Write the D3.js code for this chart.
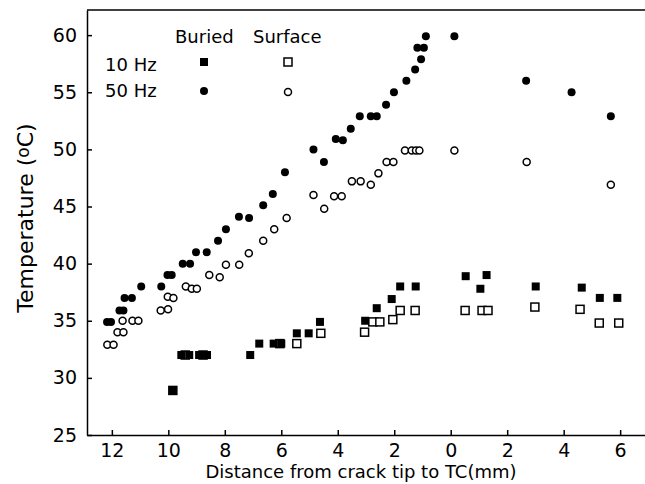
<!DOCTYPE html>
<html>
<head>
<meta charset="utf-8">
<script src="https://cdn.jsdelivr.net/npm/d3@7"></script>
<style>
  body { margin: 0; background: #fff; }
  svg text { font-family: "DejaVu Sans", sans-serif; fill: #000; }
  .axis path, .axis line { stroke: #000; stroke-width: 1.5px; }
</style>
</head>
<body>
<div id="chart"></div>
<script>
// distance from crack tip (mm): negative = left of the "0" tick, positive = right
var xTicks = [-12, -10, -8, -6, -4, -2, 0, 2, 4, 6];
var yTicks = [25, 30, 35, 40, 45, 50, 55, 60];

// buried, 50 Hz (filled circles)
var buried50Dist = [-12.17, -12.03, -11.73, -11.59, -11.55, -11.29, -10.96, -10.25, -10.03, -9.88,
  -9.49, -9.23, -9.02, -8.64, -8.24, -7.96, -7.50, -7.14, -6.64, -6.30, -5.87, -4.86, -4.49,
  -4.07, -3.82, -3.54, -3.22, -2.83, -2.62, -2.29, -2.01, -1.57, -1.26, -1.05, -1.18, -0.95,
  -0.88, 0.13, 2.67, 4.28, 5.67];
var buried50Temp = [34.9, 34.9, 35.9, 35.9, 37.0, 37.0, 38.0, 38.0, 39.0, 39.0,
  40.0, 40.0, 41.0, 41.0, 42.0, 43.0, 44.1, 44.0, 45.1, 46.1, 48.0, 50.0, 48.9,
  50.9, 50.8, 51.8, 52.9, 52.9, 52.9, 53.9, 55.0, 56.0, 57.0, 57.9, 58.9, 58.9,
  59.9, 59.9, 56.0, 55.0, 52.9];

// surface, 50 Hz (open circles)
var surface50Dist = [-12.16, -11.94, -11.80, -11.59, -11.62, -11.27, -11.06, -10.27, -10.01, -10.02,
  -9.82, -9.38, -9.17, -8.99, -8.55, -8.18, -7.96, -7.49, -7.15, -6.64, -6.25, -5.81, -4.86,
  -4.48, -4.13, -3.86, -3.50, -3.19, -2.83, -2.56, -2.27, -2.03, -1.62, -1.38, -1.23, -1.11,
  0.13, 2.69, 5.67];
var surface50Temp = [32.9, 32.9, 34.0, 34.0, 35.0, 35.0, 35.0, 35.9, 36.0, 37.1,
  37.0, 38.0, 37.8, 37.8, 39.0, 38.8, 39.9, 39.9, 40.9, 42.0, 43.0, 44.0, 46.0,
  44.8, 45.9, 45.9, 47.2, 47.2, 46.9, 47.9, 48.9, 48.9, 49.9, 49.9, 49.9, 49.9,
  49.9, 48.9, 46.9];

// buried, 10 Hz (filled squares)
var buried10Dist = [-9.84, -9.54, -9.26, -8.91, -8.63, -7.10, -6.78, -6.27, -6.00, -5.45, -5.03,
  -4.63, -3.03, -2.62, -2.09, -1.79, -1.24, 0.53, 1.05, 1.27, 3.01, 4.64, 5.28, 5.90];
var buried10Temp = [28.9, 32.0, 32.0, 32.0, 32.0, 32.0, 33.0, 33.0, 33.0, 33.9, 33.9,
  34.9, 35.0, 36.1, 36.9, 38.0, 38.0, 38.9, 37.8, 39.0, 38.0, 37.9, 37.0, 37.0];

// surface, 10 Hz (open squares)
var surface10Dist = [-9.84, -9.40, -8.77, -6.05, -5.45, -4.60, -3.05, -2.76, -2.51, -2.05, -1.79,
  -1.26, 0.51, 1.11, 1.32, 2.98, 4.58, 5.26, 5.95];
var surface10Temp = [28.9, 32.0, 32.0, 33.0, 33.0, 33.9, 34.0, 34.9, 34.9, 35.1, 35.9,
  35.9, 35.9, 35.9, 35.9, 36.2, 36.0, 34.8, 34.8];

var width = 645, height = 484;
var margin = {top: 10, right: 0, bottom: 49, left: 87};

var svg = d3.select("#chart").append("svg")
  .attr("width", width)
  .attr("height", height);

var x = d3.scaleLinear()
  .domain([-12.88, 6.88])
  .range([margin.left, width - margin.right]);

var y = d3.scaleLinear()
  .domain([25, 62.2])
  .range([height - margin.bottom, margin.top]);

function pairs(xs, ys) {
  return xs.map(function(d, i) { return {d: d, t: ys[i]}; });
}

// axes, ticks point inward
var xAxis = svg.append("g")
  .attr("class", "axis")
  .attr("transform", "translate(0," + y(25) + ")")
  .call(d3.axisBottom(x).tickValues(xTicks).tickSizeInner(-5).tickSizeOuter(0).tickPadding(9)
    .tickFormat(function(d) { return Math.abs(d); }));
xAxis.selectAll("text").style("font-size", "19px");

var yAxis = svg.append("g")
  .attr("class", "axis")
  .attr("transform", "translate(" + x.range()[0] + ",0)")
  .call(d3.axisLeft(y).tickValues(yTicks).tickSizeInner(-5).tickSizeOuter(0).tickPadding(10));
yAxis.selectAll("text").style("font-size", "19px");

// top frame line
svg.append("line")
  .attr("x1", x.range()[0]).attr("x2", width)
  .attr("y1", y(62.2)).attr("y2", y(62.2))
  .attr("stroke", "#000").attr("stroke-width", 1.5);

// axis titles
svg.append("text")
  .attr("x", 361).attr("y", 478)
  .attr("text-anchor", "middle")
  .style("font-size", "18px")
  .text("Distance from crack tip to TC(mm)");

var yt = svg.append("text")
  .attr("transform", "translate(33," + 218 + ") rotate(-90)")
  .attr("text-anchor", "middle")
  .style("font-size", "22px");
yt.append("tspan").text("Temperature (");
yt.append("tspan").attr("dy", -4).style("font-size", "17px").text("o");
yt.append("tspan").attr("dy", 4).text("C)");

var sq = 8;

// markers
svg.selectAll(".s10").data(pairs(surface10Dist, surface10Temp)).enter()
  .append("rect")
  .attr("x", function(p) { return x(p.d) - sq / 2; })
  .attr("y", function(p) { return y(p.t) - sq / 2; })
  .attr("width", sq).attr("height", sq)
  .attr("fill", "#fff").attr("stroke", "#000").attr("stroke-width", 1.5);

svg.selectAll(".b10").data(pairs(buried10Dist, buried10Temp)).enter()
  .append("rect")
  .attr("x", function(p) { return x(p.d) - sq / 2; })
  .attr("y", function(p) { return y(p.t) - sq / 2; })
  .attr("width", sq).attr("height", sq)
  .attr("fill", "#000");

svg.selectAll(".s50").data(pairs(surface50Dist, surface50Temp)).enter()
  .append("circle")
  .attr("cx", function(p) { return x(p.d); })
  .attr("cy", function(p) { return y(p.t); })
  .attr("r", 3.5)
  .attr("fill", "#fff").attr("stroke", "#000").attr("stroke-width", 1.5);

svg.selectAll(".b50").data(pairs(buried50Dist, buried50Temp)).enter()
  .append("circle")
  .attr("cx", function(p) { return x(p.d); })
  .attr("cy", function(p) { return y(p.t); })
  .attr("r", 4)
  .attr("fill", "#000");

// legend
var lg = svg.append("g");
lg.append("text").attr("x", 175).attr("y", 43).style("font-size", "18px").text("Buried");
lg.append("text").attr("x", 253).attr("y", 43).style("font-size", "18px").text("Surface");
lg.append("text").attr("x", 105).attr("y", 71).style("font-size", "18px").text("10 Hz");
lg.append("text").attr("x", 105).attr("y", 97).style("font-size", "18px").text("50 Hz");
lg.append("rect").attr("x", 204 - sq / 2).attr("y", 62 - sq / 2).attr("width", sq).attr("height", sq)
  .attr("fill", "#000");
lg.append("rect").attr("x", 288 - sq / 2).attr("y", 62 - sq / 2).attr("width", sq).attr("height", sq)
  .attr("fill", "#fff").attr("stroke", "#000").attr("stroke-width", 1.5);
lg.append("circle").attr("cx", 204).attr("cy", 91).attr("r", 4).attr("fill", "#000");
lg.append("circle").attr("cx", 288).attr("cy", 92).attr("r", 3.5)
  .attr("fill", "#fff").attr("stroke", "#000").attr("stroke-width", 1.5);
</script>
</body>
</html>
